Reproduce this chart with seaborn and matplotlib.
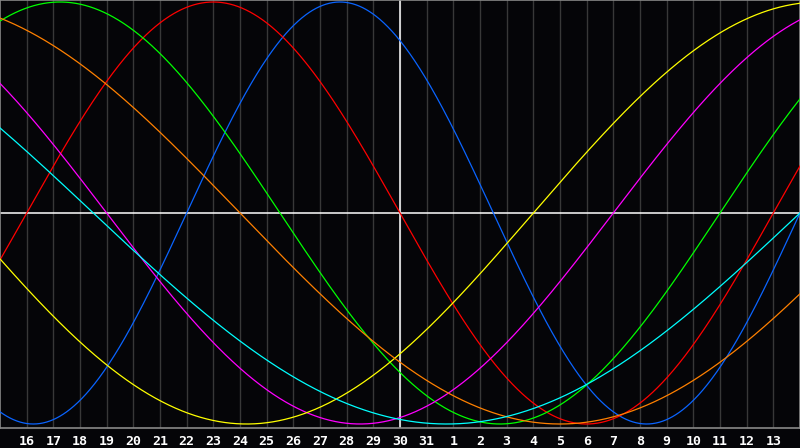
import numpy as np
import pandas as pd
import matplotlib
matplotlib.use("Agg")
import matplotlib.pyplot as plt
import seaborn as sns

# biorhythm cycles (period in days, colour)
cycles = ["physical", "emotional", "intellectual", "intuitive",
          "aesthetic", "awareness", "spiritual"]
periods = [23, 28, 33, 38, 43, 48, 53]
colors = ["#0a64ff", "#ff0000", "#00ff00", "#ff00ff",
          "#ffff00", "#ff8000", "#00ffff"]

# days lived at the right edge of the chart (day 45 of the window)
days_at_end = 18285
start_day, end_day = 15, 45
today = 30

tick_days = list(range(16, 45))
tick_labels = [str(d) for d in range(16, 32)] + [str(d) for d in range(1, 14)]

# build long table
day = np.linspace(start_day, end_day, 1201)
rows = []
for name, p in zip(cycles, periods):
    n = days_at_end - end_day + day
    rows.append(pd.DataFrame({"day": day, "value": np.sin(2 * np.pi * n / p), "cycle": name}))
df = pd.concat(rows, ignore_index=True)

bg = "#050508"
fig = plt.figure(figsize=(8, 4.48), dpi=100, facecolor=bg)
ax = fig.add_axes([0, 20 / 448, 1, 428 / 448])
ax.set_facecolor(bg)

for d in tick_days:
    ax.axvline(d, color="#383838", lw=1, zorder=1)

sns.lineplot(data=df, x="day", y="value", hue="cycle", palette=dict(zip(cycles, colors)),
             hue_order=cycles, lw=0.9, legend=False, ax=ax, zorder=3, sort=False,
             estimator=None)

ax.axhline(0, color="white", lw=1.1, zorder=2)
ax.axvline(today, color="white", lw=1.1, zorder=2)

ax.set_xlim(start_day, end_day)
ax.set_ylim(-1 - 4 / 211, 1 + 2 / 211)
ax.set_xticks(tick_days)
ax.set_xticklabels(tick_labels, color="white", fontsize=9.5, fontweight="bold",
                   family="DejaVu Sans Mono")
ax.tick_params(axis="x", length=0, pad=5)
ax.set_yticks([])
ax.set_xlabel("")
ax.set_ylabel("")
for s in ax.spines.values():
    s.set_color("#888888")
    s.set_linewidth(1.2)

fig.savefig("out.png", dpi=100, facecolor=bg)
